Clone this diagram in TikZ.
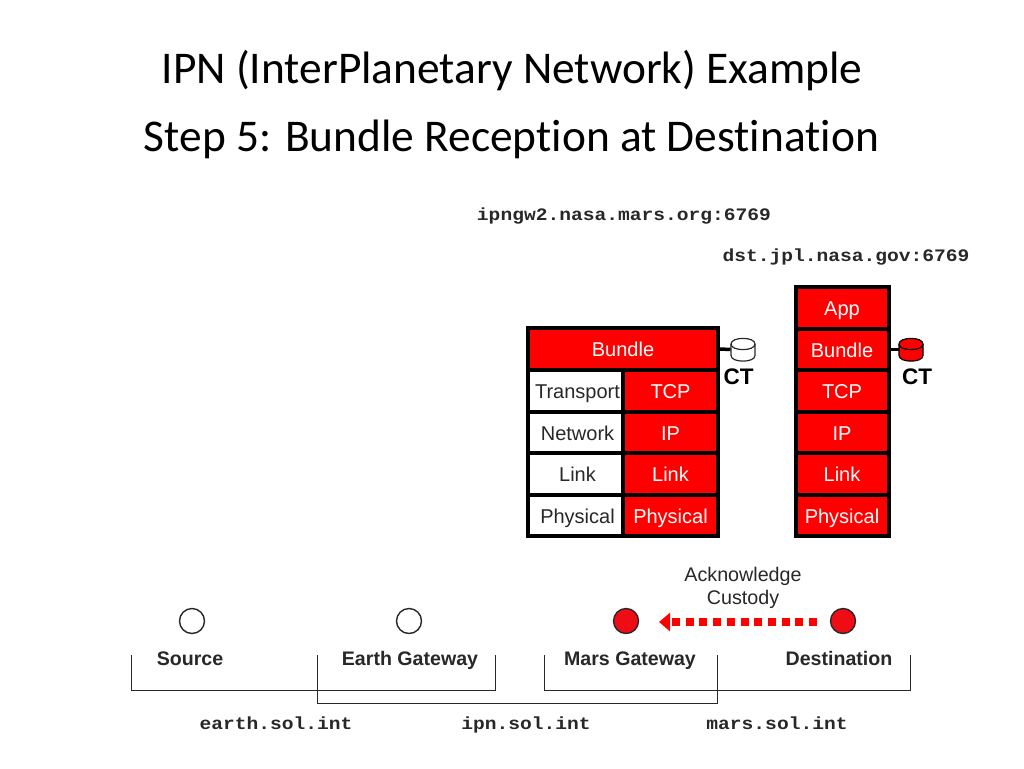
\documentclass[tikz,border=0pt]{standalone}
\usepackage{fontspec}
\setmainfont{Liberation Sans}
\newfontfamily\titlefont[Ligatures=NoCommon]{Carlito}
\newfontfamily\addrfont[FakeStretch=1.12]{Liberation Mono}
\usetikzlibrary{arrows.meta}
\definecolor{netred}{RGB}{255,0,0}
\definecolor{dotred}{RGB}{240,12,20}
\definecolor{inkgrey}{RGB}{40,40,40}
\tikzset{
  x=1pt,y=-1pt,
  titletext/.style={font=\titlefont\fontsize{45.4}{46}\selectfont,text=black,inner sep=0,anchor=base},
  addr/.style={font=\addrfont\bfseries\fontsize{17.5}{18}\selectfont,text=inkgrey,inner sep=0,anchor=base},
  cellbase/.style={draw=black,line width=4pt,font=\fontsize{20}{20}\selectfont,inner sep=0,minimum height=41.5pt,anchor=center,text height=16.5pt,text depth=1pt},
  redcell/.style={cellbase,fill=netred,text=white},
  whitecell/.style={cellbase,fill=white,text=inkgrey},
  hostdot/.style={circle,draw=inkgrey,line width=1.4pt,minimum size=25pt,inner sep=0},
  hostlabel/.style={font=\bfseries\fontsize{19.6}{20}\selectfont,text=inkgrey,inner sep=0,anchor=base},
  ctlabel/.style={font=\bfseries\fontsize{22.5}{22}\selectfont,text=black,inner sep=0,anchor=base},
  bracket/.style={draw=inkgrey,line width=1pt},
  storelink/.style={draw=black,line width=3.5pt},
  storeanchor/.style={minimum width=25pt,minimum height=23pt,inner sep=0,outer sep=0},
  ackarrow/.style={draw=netred,line width=7.5pt,dash pattern=on 8pt off 5.7pt,-{Triangle[length=11pt,width=18pt,fill=netred]}},
}
\begin{document}
\begin{tikzpicture}
\useasboundingbox (0,0) rectangle (1024,768);
\fill[white] (0,0) rectangle (1024,768);
% titles
\node[titletext] (t1) at (512,83) {IPN (InterPlanetary Network) Example};
\node[titletext] (t2) at (511.5,151) {Step 5: Bundle Reception at Destination};
% addresses
\node[addr] (a1) at (624,220) {ipngw2.nasa.mars.org:6769};
\node[addr] (a2) at (846,261) {dst.jpl.nasa.gov:6769};
% gateway stack
\node[redcell,minimum width=190pt] (gb) at (623,349) {Bundle};
\node[whitecell,minimum width=99pt] (g1) at (577.5,391) {Transport};
\node[redcell,minimum width=95pt] (g2) at (670.5,391) {TCP};
\node[whitecell,minimum width=99pt] (g3) at (577.5,432.5) {Network};
\node[redcell,minimum width=95pt] (g4) at (670.5,432.5) {IP};
\node[whitecell,minimum width=99pt] (g5) at (577.5,474) {Link};
\node[redcell,minimum width=95pt] (g6) at (670.5,474) {Link};
\node[whitecell,minimum width=99pt] (g7) at (577.5,515.5) {Physical};
\node[redcell,minimum width=95pt] (g8) at (670.5,515.5) {Physical};
% destination stack
\node[redcell,minimum width=93pt] (d1) at (842,308) {App};
\node[redcell,minimum width=93pt] (d2) at (842,349.5) {Bundle};
\node[redcell,minimum width=93pt] (d3) at (842,391) {TCP};
\node[redcell,minimum width=93pt] (d4) at (842,432.5) {IP};
\node[redcell,minimum width=93pt] (d5) at (842,474) {Link};
\node[redcell,minimum width=93pt] (d6) at (842,515.5) {Physical};
% custody stores
\node[storeanchor] (s1) at (743,349.5) {};
\draw[draw=inkgrey,line width=1.2pt,fill=white] (731,344) .. controls (731,336.5) and (755,336.5) .. (755,344) -- (755,355.5) .. controls (755,363) and (731,363) .. (731,355.5) -- cycle;
\draw[draw=inkgrey,line width=1.2pt] (731,344) .. controls (731,351.5) and (755,351.5) .. (755,344);
\node[storeanchor] (s2) at (911,349.5) {};
\draw[draw=black,line width=1.2pt,fill=netred] (899,344) .. controls (899,336.5) and (923,336.5) .. (923,344) -- (923,355.5) .. controls (923,363) and (899,363) .. (899,355.5) -- cycle;
\draw[draw=black,line width=1.2pt] (899,344) .. controls (899,351.5) and (923,351.5) .. (923,344);
\draw[storelink] (gb.east) -- (s1.west);
\draw[storelink] (d2.east) -- (s2.west);
\node[ctlabel] (c1) at (738.5,384) {CT};
\node[ctlabel] (c2) at (917,384) {CT};
% ack
\node[font=\fontsize{19.7}{23.5}\selectfont,text=inkgrey,align=center,inner sep=0] (ack) at (743,588) {Acknowledge\\Custody};
% hosts
\node[hostdot,fill=white] (h1) at (192,621) {};
\node[hostdot,fill=white] (h2) at (409,621) {};
\node[hostdot,fill=dotred] (h3) at (626,621) {};
\node[hostdot,fill=dotred] (h4) at (843,621) {};
\coordinate (ackfrom) at (817,622);
\coordinate (ackto) at (659,622);
\draw[ackarrow] (ackfrom) -- (ackto);
\node[hostlabel] (l1) at (190,665) {Source};
\node[hostlabel] (l2) at (410,665) {Earth Gateway};
\node[hostlabel] (l3) at (630,665) {Mars Gateway};
\node[hostlabel] (l4) at (839,665) {Destination};
% brackets
\coordinate (b1a) at (131.5,655);
\coordinate (b1b) at (495.5,655);
\draw[bracket] (b1a) -- ++(0,35) -- ++(364,0) -- (b1b);
\coordinate (b2a) at (317.5,655);
\coordinate (b2b) at (717.5,655);
\draw[bracket] (b2a) -- ++(0,48) -- ++(400,0) -- (b2b);
\coordinate (b3a) at (544.5,655);
\coordinate (b3b) at (910.5,655);
\draw[bracket] (b3a) -- ++(0,35) -- ++(366,0) -- (b3b);
\node[addr] (n1) at (276,729) {earth.sol.int};
\node[addr] (n2) at (526,729) {ipn.sol.int};
\node[addr] (n3) at (777,729) {mars.sol.int};
\end{tikzpicture}
\end{document}
